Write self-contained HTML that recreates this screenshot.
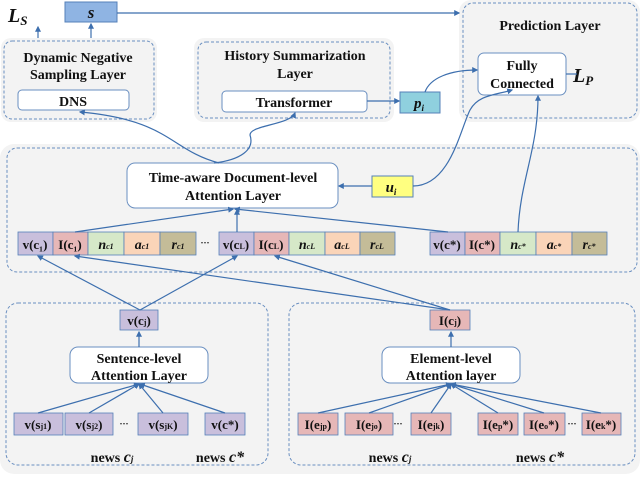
<!DOCTYPE html>
<html><head><style>body{margin:0;background:#fff}svg{display:block}text{font-family:"Liberation Serif",serif;font-weight:bold;fill:#111}</style></head><body>
<svg width="640" height="478" viewBox="0 0 640 478" xmlns="http://www.w3.org/2000/svg">
<defs><marker id="a" markerWidth="5" markerHeight="5" refX="4" refY="2.5" orient="auto"><path d="M0,0L5,2.5L0,5z" fill="#3d6fae"/></marker></defs>
<g fill="#f3f3f3">
<rect x="1" y="38" width="156" height="84" rx="10"/>
<rect x="194" y="38" width="200" height="84" rx="10"/>
<rect x="459" y="0" width="181" height="122" rx="12"/>
<rect x="0" y="144" width="640" height="330" rx="14"/>
</g>
<g fill="none" stroke="#6a8fc0" stroke-dasharray="3,2" stroke-width="1">
<rect x="4" y="41" width="150" height="78" rx="8"/>
<rect x="198" y="42" width="192" height="76" rx="8"/>
<rect x="463" y="3" width="174" height="115" rx="10"/>
<rect x="7" y="148" width="630" height="124" rx="10"/>
<rect x="6" y="303" width="262" height="162" rx="12"/>
<rect x="289" y="303" width="346" height="162" rx="12"/>
</g>
<g stroke="#5580b8" stroke-width="1">
<rect x="65" y="2" width="52" height="20" fill="#8fb4e3"/>
<rect x="400" y="92" width="40" height="21" fill="#8fd0de"/>
<rect x="372" y="176" width="41" height="21" fill="#ffff80"/>
</g>
<g fill="#fff" stroke="#6a8fc0">
<rect x="18" y="90" width="111" height="20" rx="4"/>
<rect x="222" y="91" width="145" height="21" rx="4"/>
<rect x="478" y="53" width="88" height="42" rx="6"/>
<rect x="127" y="163" width="211" height="45" rx="8"/>
<rect x="70" y="347" width="138" height="36" rx="8"/>
<rect x="382" y="347" width="138" height="36" rx="8"/>
</g>
<text x="8" y="22" font-size="20" font-style="italic">L<tspan font-size="13" dy="3">S</tspan></text>
<text x="91" y="18" font-size="17" font-style="italic" text-anchor="middle">s</text>
<text x="573" y="82" font-size="20" font-style="italic">L<tspan font-size="13" dy="3">P</tspan></text>
<text x="419" y="108" font-size="15" font-style="italic" text-anchor="middle">p<tspan font-size="9" dy="3">i</tspan></text>
<text x="391" y="192" font-size="15" font-style="italic" text-anchor="middle">u<tspan font-size="9" dy="3">i</tspan></text>
<g font-size="14" text-anchor="middle">
<text x="78" y="62">Dynamic Negative</text><text x="78" y="79">Sampling Layer</text>
<text x="73" y="106">DNS</text>
<text x="295" y="60">History Summarization</text><text x="295" y="78">Layer</text>
<text x="294" y="107">Transformer</text>
<text x="550" y="30">Prediction Layer</text>
<text x="522" y="70">Fully</text><text x="522" y="88">Connected</text>
<text x="233" y="182">Time-aware Document-level</text><text x="233" y="200">Attention Layer</text>
<text x="139" y="363">Sentence-level</text><text x="139" y="380">Attention Layer</text>
<text x="451" y="363">Element-level</text><text x="451" y="380">Attention layer</text>
</g>
<g stroke="#5580b8" stroke-width="0.8">
<rect x="18" y="232" width="35" height="23" fill="#c9bfdc"/><rect x="53" y="232" width="35" height="23" fill="#e6b7b7"/><rect x="88" y="232" width="36" height="23" fill="#d6e8c8"/><rect x="124" y="232" width="36" height="23" fill="#fad4b8"/><rect x="160" y="232" width="36" height="23" fill="#c4bc98"/>
<rect x="219" y="232" width="35" height="23" fill="#c9bfdc"/><rect x="254" y="232" width="35" height="23" fill="#e6b7b7"/><rect x="289" y="232" width="36" height="23" fill="#d6e8c8"/><rect x="325" y="232" width="35" height="23" fill="#fad4b8"/><rect x="360" y="232" width="35" height="23" fill="#c4bc98"/>
<rect x="430" y="232" width="35" height="23" fill="#c9bfdc"/><rect x="465" y="232" width="35" height="23" fill="#e6b7b7"/><rect x="500" y="232" width="36" height="23" fill="#d6e8c8"/><rect x="536" y="232" width="36" height="23" fill="#fad4b8"/><rect x="572" y="232" width="35" height="23" fill="#c4bc98"/>
<rect x="120" y="310" width="38" height="20" fill="#c9bfdc"/><rect x="430" y="310" width="40" height="20" fill="#e6b7b7"/>
<rect x="14" y="413" width="49" height="22" fill="#c9bfdc"/><rect x="65" y="413" width="48" height="22" fill="#c9bfdc"/><rect x="138" y="413" width="50" height="22" fill="#c9bfdc"/><rect x="205" y="413" width="40" height="22" fill="#c9bfdc"/>
<rect x="298" y="413" width="40" height="22" fill="#e6b7b7"/><rect x="345" y="413" width="48" height="22" fill="#e6b7b7"/><rect x="411" y="413" width="40" height="22" fill="#e6b7b7"/><rect x="478" y="413" width="40" height="22" fill="#e6b7b7"/><rect x="524" y="413" width="41" height="22" fill="#e6b7b7"/><rect x="582" y="413" width="39" height="22" fill="#e6b7b7"/>
</g>
<g font-size="13" text-anchor="middle">
<text x="35" y="249">v(c₁)</text><text x="70" y="249">I(c₁)</text><text x="106" y="249" font-style="italic" font-size="14">n<tspan font-size="8">c1</tspan></text><text x="142" y="249" font-style="italic" font-size="14">a<tspan font-size="8">c1</tspan></text><text x="178" y="249" font-style="italic" font-size="14">r<tspan font-size="8">c1</tspan></text>
<text x="205" y="246" font-weight="normal" font-size="9">···</text>
<text x="236" y="249">v(c<tspan font-size="8">L</tspan>)</text><text x="271" y="249">I(c<tspan font-size="8">L</tspan>)</text><text x="307" y="249" font-style="italic" font-size="14">n<tspan font-size="8">cL</tspan></text><text x="342" y="249" font-style="italic" font-size="14">a<tspan font-size="8">cL</tspan></text><text x="377" y="249" font-style="italic" font-size="14">r<tspan font-size="8">cL</tspan></text>
<text x="447" y="249">v(c*)</text><text x="482" y="249">I(c*)</text><text x="518" y="249" font-style="italic" font-size="14">n<tspan font-size="8">c*</tspan></text><text x="554" y="249" font-style="italic" font-size="14">a<tspan font-size="8">c*</tspan></text><text x="589" y="249" font-style="italic" font-size="14">r<tspan font-size="8">c*</tspan></text>
<text x="139" y="325">v(c<tspan font-size="8">j</tspan>)</text><text x="450" y="325">I(c<tspan font-size="8">j</tspan>)</text>
<text x="38" y="429">v(s<tspan font-size="8">j1</tspan>)</text><text x="89" y="429">v(s<tspan font-size="8">j2</tspan>)</text><text x="124" y="427" font-weight="normal" font-size="9">···</text><text x="163" y="429">v(s<tspan font-size="8">jK</tspan>)</text><text x="225" y="429">v(c*)</text>
<text x="318" y="429">I(e<tspan font-size="8">jp</tspan>)</text><text x="369" y="429">I(e<tspan font-size="8">jo</tspan>)</text><text x="398" y="427" font-weight="normal" font-size="9">···</text><text x="431" y="429">I(e<tspan font-size="8">jk</tspan>)</text><text x="498" y="429">I(e<tspan font-size="8">p</tspan>*)</text><text x="544" y="429">I(e<tspan font-size="8">o</tspan>*)</text><text x="572" y="427" font-weight="normal" font-size="9">···</text><text x="601" y="429">I(e<tspan font-size="8">k</tspan>*)</text>
<text x="112" y="462" font-size="14">news <tspan font-style="italic" font-size="16">c<tspan font-size="9">j</tspan></tspan></text>
<text x="220" y="462" font-size="14">news <tspan font-style="italic" font-size="16">c*</tspan></text>
<text x="390" y="462" font-size="14">news <tspan font-style="italic" font-size="16">c<tspan font-size="9">j</tspan></tspan></text>
<text x="540" y="462" font-size="14">news <tspan font-style="italic" font-size="16">c*</tspan></text>
</g>
<g fill="none" stroke="#3d6fae" stroke-width="1.2" marker-end="url(#a)">
<path d="M38,38V27"/><path d="M91,38V24"/>
<path d="M117,13H459"/>
<path d="M367,101H399"/>
<path d="M425,92C430,78 450,70 477,70"/>
<path d="M566,74H577" marker-end="none"/>
<path d="M219,163C170,150 170,120 80,112"/>
<path d="M214,163C240,160 255,150 250,135C250,125 290,125 295,113"/>
<path d="M413,186C450,186 460,130 470,110C478,95 495,95 512,90"/>
<path d="M518,232C520,180 538,150 538,96"/>
<path d="M372,186H339"/>
<path d="M75,232L233,209"/><path d="M237,232V210"/><path d="M448,232L235,209"/>
<path d="M140,310L38,256"/><path d="M140,310L237,256"/>
<path d="M450,310L75,256"/><path d="M450,310L275,256"/>
<path d="M139,347V332"/><path d="M451,347V332"/>
<path d="M38,413L139,384"/><path d="M89,413L139,384"/><path d="M163,413L139,384"/><path d="M225,413L140,384"/>
<path d="M318,413L451,384"/><path d="M369,413L451,384"/><path d="M431,413L451,384"/><path d="M498,413L451,384"/><path d="M544,413L451,384"/><path d="M601,413L451,384"/>
</g>
</svg>
</body></html>
